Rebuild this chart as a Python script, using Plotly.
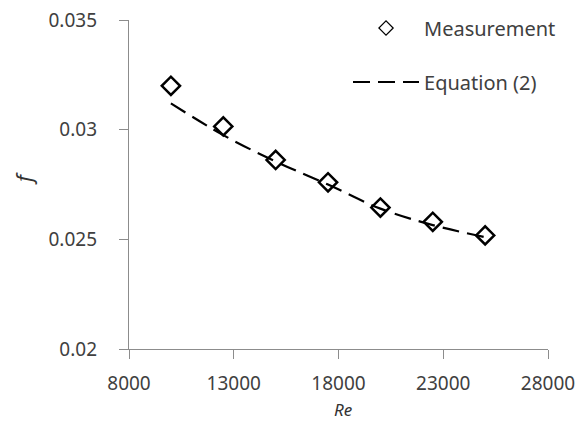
import plotly.graph_objects as go

# Measured friction factor vs Reynolds number
re_meas = [10000, 12500, 15000, 17500, 20000, 22500, 25000]
f_meas = [0.0320, 0.03015, 0.02862, 0.02760, 0.02645, 0.02580, 0.02518]

# Correlation curve, Equation (2)
re_eq = [10000, 12500, 15000, 17500, 20000, 22500, 25000]
f_eq = [0.0312, 0.02975, 0.02855, 0.02750, 0.02640, 0.02565, 0.02510]

x_ticks = [8000, 13000, 18000, 23000, 28000]
x_tick_text = ["8000", "13000", "18000", "23000", "28000"]
y_ticks = [0.02, 0.025, 0.03, 0.035]
y_tick_text = ["0.02", "0.025", "0.03", "0.035"]

FONT = "Noto Sans"
TEXT = "#404040"
TITLE = "#333333"
AXIS = "#8c8c8c"
DASH = "17px,8px"

fig = go.Figure()
fig.add_trace(go.Scatter(
    x=re_meas, y=f_meas, mode="markers", showlegend=False,
    marker=dict(symbol="diamond-open", size=14, color="black",
                line=dict(width=2.5, color="black")),
))
fig.add_trace(go.Scatter(
    x=re_eq, y=f_eq, mode="lines", showlegend=False,
    line=dict(color="black", width=2.2, dash=DASH, shape="spline"),
))
# Legend entries (lighter symbol than the plotted markers)
fig.add_trace(go.Scatter(
    x=[None], y=[None], mode="markers", name="Measurement", legendgroup="m",
    marker=dict(symbol="diamond-open", size=11, color="black",
                line=dict(width=1.2, color="black")),
))
fig.add_trace(go.Scatter(
    x=[None], y=[None], mode="lines", name="Equation (2)", legendgroup="e",
    line=dict(color="black", width=2.2, dash=DASH),
))

axis_common = dict(
    showgrid=False, zeroline=False, showline=True, linecolor=AXIS, linewidth=1.3,
    ticks="outside", ticklen=9, tickcolor=AXIS, tickwidth=1.3, automargin=False,
    tickfont=dict(family=FONT, size=19, color=TEXT),
)

fig.update_layout(
    width=584, height=421,
    margin=dict(l=129, r=36, t=20, b=72, autoexpand=False),
    paper_bgcolor="white", plot_bgcolor="white",
    font=dict(family=FONT, color=TEXT),
    xaxis=dict(range=[8000, 28000], tickvals=x_ticks, ticktext=x_tick_text,
               **axis_common, ticklabelstandoff=8),
    yaxis=dict(range=[0.02, 0.035], tickvals=y_ticks, ticktext=y_tick_text,
               **axis_common, ticklabelstandoff=18),
    legend=dict(x=0.5227, y=1.035, xanchor="left", yanchor="top",
                bgcolor="rgba(0,0,0,0)", tracegroupgap=25,
                traceorder="grouped",
                font=dict(family=FONT, size=20, color=TEXT),
                itemwidth=66),
    annotations=[
        dict(text="<i>Re</i>", xref="paper", yref="paper", x=0.51, y=-0.183,
             xanchor="center", yanchor="middle", showarrow=False,
             font=dict(family=FONT, size=17, color=TITLE)),
        dict(text="<i>f</i>", xref="paper", yref="paper", x=-0.253, y=0.52,
             xanchor="center", yanchor="middle", showarrow=False, textangle=-90,
             font=dict(family=FONT, size=22, color=TITLE)),
    ],
)

fig.write_html("out.html")
